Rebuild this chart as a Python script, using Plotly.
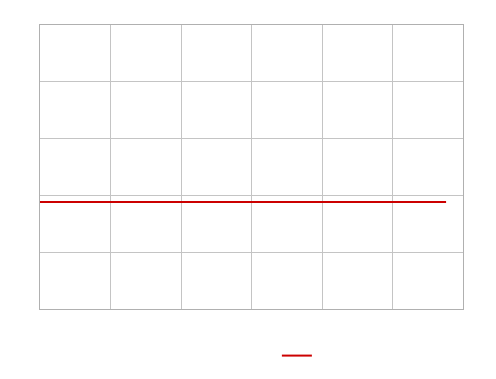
import plotly.graph_objects as go

# Data
mean_x = [0, 57.6]
mean_y = [37.7, 37.7]
x_ticks = [0, 10, 20, 30, 40, 50, 60]
y_ticks = [0, 20, 40, 60, 80, 100]

fig = go.Figure()
fig.add_trace(go.Scatter(
    x=mean_x, y=mean_y, mode="lines", name="Mean",
    line=dict(color="#cc0000", width=2),
))

axis_common = dict(
    showgrid=True, gridcolor="#c4c4c4", gridwidth=1,
    showline=True, linecolor="#b0b0b0", linewidth=1, mirror=True,
    zeroline=False, ticks="", tickfont=dict(color="white", size=11),
    automargin=False,
)
fig.update_xaxes(range=[0, 60], tickvals=x_ticks, **axis_common)
fig.update_yaxes(range=[0, 100], tickvals=y_ticks, **axis_common)

fig.update_layout(
    width=496, height=379,
    margin=dict(l=40, r=33, t=25, b=70, autoexpand=False),
    paper_bgcolor="white", plot_bgcolor="white",
    showlegend=True,
    legend=dict(orientation="h", x=0.56, xanchor="left", y=-0.113, yanchor="top",
                font=dict(color="white", size=11), bgcolor="rgba(0,0,0,0)"),
)
fig.write_html("out.html")
